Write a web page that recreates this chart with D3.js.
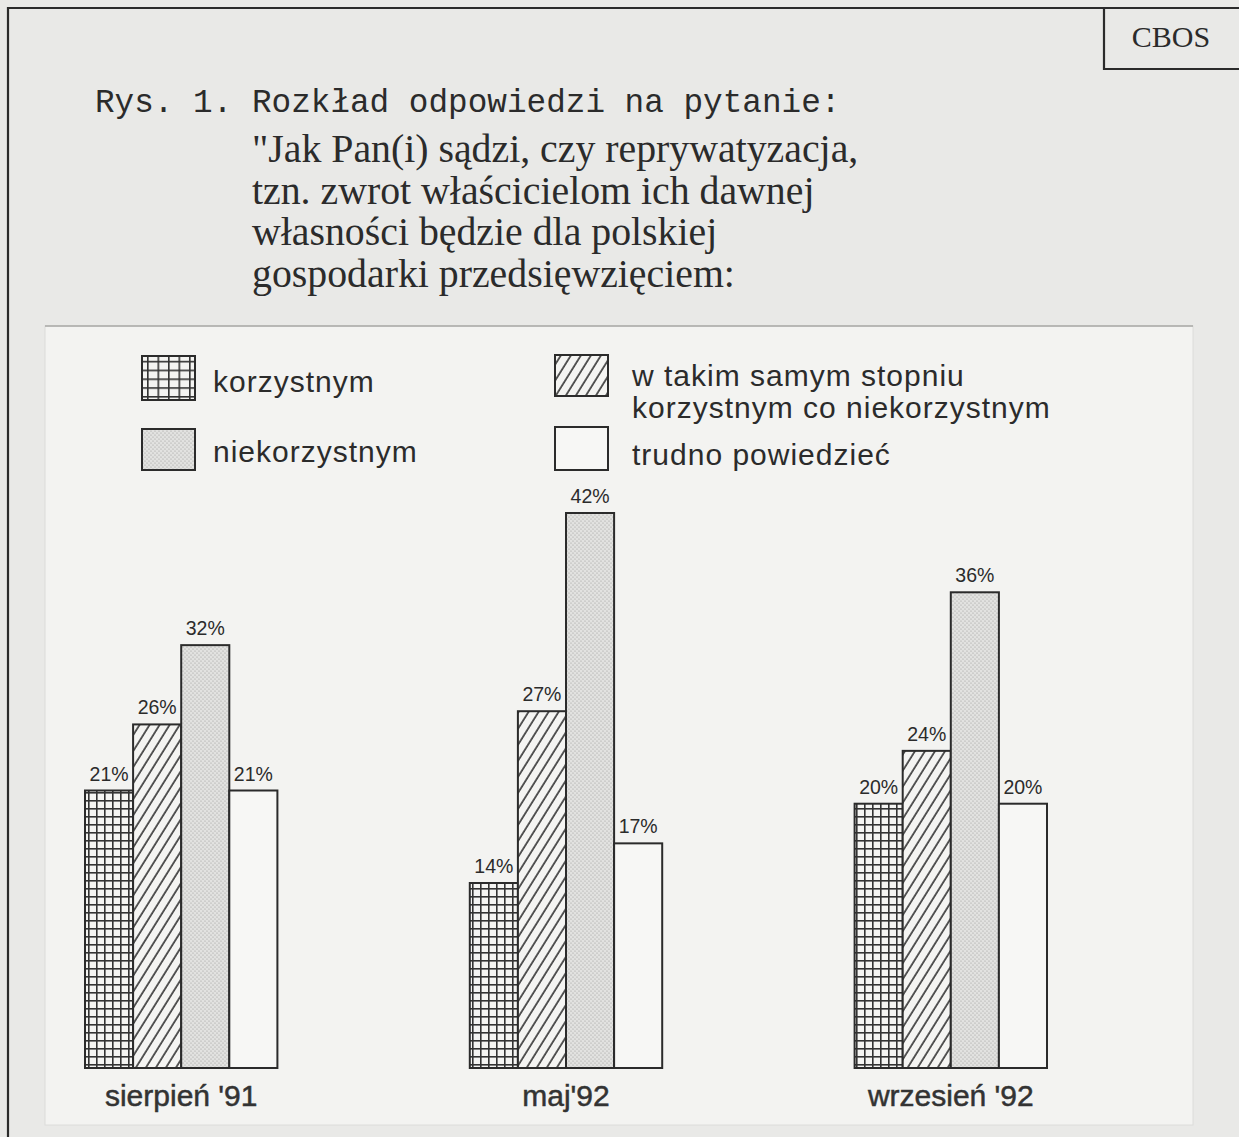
<!DOCTYPE html>
<html>
<head>
<meta charset="utf-8">
<script src="https://cdn.jsdelivr.net/npm/d3@7"></script>
<style>
  body { margin: 0; background: #e9e9e7; }
  svg { display: block; }
</style>
</head>
<body>
<div id="my_dataviz"></div>
<script>
'use strict';

// Data (percent)
const categories = ["sierpień '91", "maj'92", "wrzesień '92"];
const seriesKeys = ["korzystnym", "wTakimSamym", "niekorzystnym", "trudno"];
const korzystnym = [21, 14, 20];
const wTakimSamym = [26, 27, 24];
const niekorzystnym = [32, 42, 36];
const trudnoPowiedziec = [21, 17, 20];

const titleMono = "Rys. 1. Rozkład odpowiedzi na pytanie:";
const questionLines = [
  "\"Jak Pan(i) sądzi, czy reprywatyzacja,",
  "tzn. zwrot właścicielom ich dawnej",
  "własności będzie dla polskiej",
  "gospodarki przedsięwzięciem:"
];
const legendLabels = {
  korzystnym: ["korzystnym"],
  niekorzystnym: ["niekorzystnym"],
  wTakimSamym: ["w takim samym stopniu", "korzystnym co niekorzystnym"],
  trudno: ["trudno powiedzieć"]
};

const valuesByKey = {
  korzystnym: korzystnym,
  wTakimSamym: wTakimSamym,
  niekorzystnym: niekorzystnym,
  trudno: trudnoPowiedziec
};

const width = 1239, height = 1137;
const ink = "#2b2b2b";

let svg = d3.select("#my_dataviz")
  .append("svg")
    .attr("width", width)
    .attr("height", height);

// fill patterns: grid, hatch, dots
let defs = svg.append("defs");

function gridPattern(id, w, h) {
  let p = defs.append("pattern")
    .attr("id", id)
    .attr("patternUnits", "userSpaceOnUse")
    .attr("width", w).attr("height", h);
  p.append("rect").attr("width", w).attr("height", h).attr("fill", "#f4f4f2");
  p.append("rect").attr("width", w).attr("height", 1.6).attr("fill", "#333");
  p.append("rect").attr("width", 1.6).attr("height", h).attr("fill", "#333");
}
gridPattern("pGrid", 8, 8);
gridPattern("pGridBig", 10.5, 8.8);

let hatch = defs.append("pattern")
  .attr("id", "pHatch")
  .attr("patternUnits", "userSpaceOnUse")
  .attr("width", 8.5).attr("height", 8.5)
  .attr("patternTransform", "rotate(32)");
hatch.append("rect").attr("width", 8.5).attr("height", 8.5).attr("fill", "#f4f4f2");
hatch.append("line").attr("x1", 1).attr("y1", 0).attr("x2", 1).attr("y2", 8.5)
  .attr("stroke", "#333").attr("stroke-width", 1.6);

let dots = defs.append("pattern")
  .attr("id", "pDots")
  .attr("patternUnits", "userSpaceOnUse")
  .attr("width", 4).attr("height", 4);
dots.append("rect").attr("width", 4).attr("height", 4).attr("fill", "#e2e2e0");
dots.append("circle").attr("cx", 1).attr("cy", 1).attr("r", 0.6).attr("fill", "#9a9a98");
dots.append("circle").attr("cx", 3).attr("cy", 3).attr("r", 0.6).attr("fill", "#9a9a98");

const fills = {
  korzystnym: "url(#pGrid)",
  wTakimSamym: "url(#pHatch)",
  niekorzystnym: "url(#pDots)",
  trudno: "#f7f7f5"
};
const legendFills = Object.assign({}, fills, { korzystnym: "url(#pGridBig)" });

// page frame and CBOS box
svg.append("path")
  .attr("d", "M8," + height + "V8H" + width)
  .attr("fill", "none").attr("stroke", ink).attr("stroke-width", 2.2);
svg.append("path")
  .attr("d", "M1104,8V69H" + width)
  .attr("fill", "none").attr("stroke", ink).attr("stroke-width", 2.2);
svg.append("text")
  .attr("x", 1171).attr("y", 47)
  .attr("text-anchor", "middle")
  .style("font", "30px 'Liberation Serif', serif")
  .style("fill", ink)
  .text("CBOS");

// titles
svg.append("text")
  .attr("x", 95).attr("y", 112)
  .style("font", "32.7px 'Liberation Mono', monospace")
  .style("fill", ink)
  .text(titleMono);

svg.append("g").selectAll("text")
  .data(questionLines)
  .enter()
  .append("text")
  .attr("x", 252)
  .attr("y", (d, i) => 162 + i * 41.5)
  .style("font", "39.8px 'Liberation Serif', serif")
  .style("fill", ink)
  .text(d => d);

// chart panel
svg.append("rect")
  .attr("x", 45).attr("y", 326)
  .attr("width", 1148).attr("height", 799)
  .attr("fill", "#f3f3f1")
  .attr("stroke", "#dcdcda").attr("stroke-width", 1);
svg.append("line")
  .attr("x1", 45).attr("x2", 1193).attr("y1", 326).attr("y2", 326)
  .attr("stroke", "#a8a8a6").attr("stroke-width", 1.5);

// legend
const legendItems = [
  { key: "korzystnym", x: 142, y: 356, h: 44, ty: 392, tx: 213 },
  { key: "niekorzystnym", x: 142, y: 429, h: 41, ty: 462, tx: 213 },
  { key: "wTakimSamym", x: 555, y: 355, h: 41, ty: 386, tx: 632 },
  { key: "trudno", x: 555, y: 427, h: 43, ty: 465, tx: 632 }
];

let legend = svg.append("g").attr("class", "legend");
legend.selectAll("rect")
  .data(legendItems)
  .enter()
  .append("rect")
  .attr("x", d => d.x).attr("y", d => d.y)
  .attr("width", 53).attr("height", d => d.h)
  .attr("fill", d => legendFills[d.key])
  .attr("stroke", ink).attr("stroke-width", 2);

legendItems.forEach(function(item) {
  legend.append("g").selectAll("text")
    .data(legendLabels[item.key])
    .enter()
    .append("text")
    .attr("x", item.tx)
    .attr("y", (d, i) => item.ty + i * 32)
    .style("font", "30px 'Liberation Sans', Arial, sans-serif")
    .style("letter-spacing", "1px")
    .style("fill", ink)
    .text(d => d);
});

// scales
let x = d3.scaleBand()
  .domain(categories)
  .range([85, 1047])
  .paddingInner(0.5);

let xInner = d3.scaleBand()
  .domain(seriesKeys)
  .range([0, x.bandwidth()]);

let y = d3.scaleLinear()
  .domain([0, 42])
  .range([1068, 513]);

let rows = [];
categories.forEach(function(cat, ci) {
  seriesKeys.forEach(function(key) {
    rows.push({ category: cat, key: key, value: valuesByKey[key][ci] });
  });
});

let bars = svg.append("g").attr("class", "bars");
bars.selectAll("rect")
  .data(rows)
  .enter()
  .append("rect")
  .attr("x", d => x(d.category) + xInner(d.key))
  .attr("y", d => y(d.value))
  .attr("width", xInner.bandwidth())
  .attr("height", d => y(0) - y(d.value))
  .attr("fill", d => fills[d.key])
  .attr("stroke", ink)
  .attr("stroke-width", 2);

// value labels
bars.selectAll("text")
  .data(rows)
  .enter()
  .append("text")
  .attr("x", d => x(d.category) + xInner(d.key) + xInner.bandwidth() / 2)
  .attr("y", d => y(d.value) - 10)
  .attr("text-anchor", "middle")
  .style("font", "19.5px 'Liberation Sans', Arial, sans-serif")
  .style("fill", ink)
  .text(d => d.value + "%");

// category labels under the groups
svg.append("g").selectAll("text")
  .data(categories)
  .enter()
  .append("text")
  .attr("x", d => x(d) + x.bandwidth() / 2)
  .attr("y", 1106)
  .attr("text-anchor", "middle")
  .style("font", "30px 'Liberation Sans', Arial, sans-serif")
  .style("fill", "#333")
  .style("stroke", "#333")
  .style("stroke-width", 0.5)
  .text(d => d);
</script>
</body>
</html>
